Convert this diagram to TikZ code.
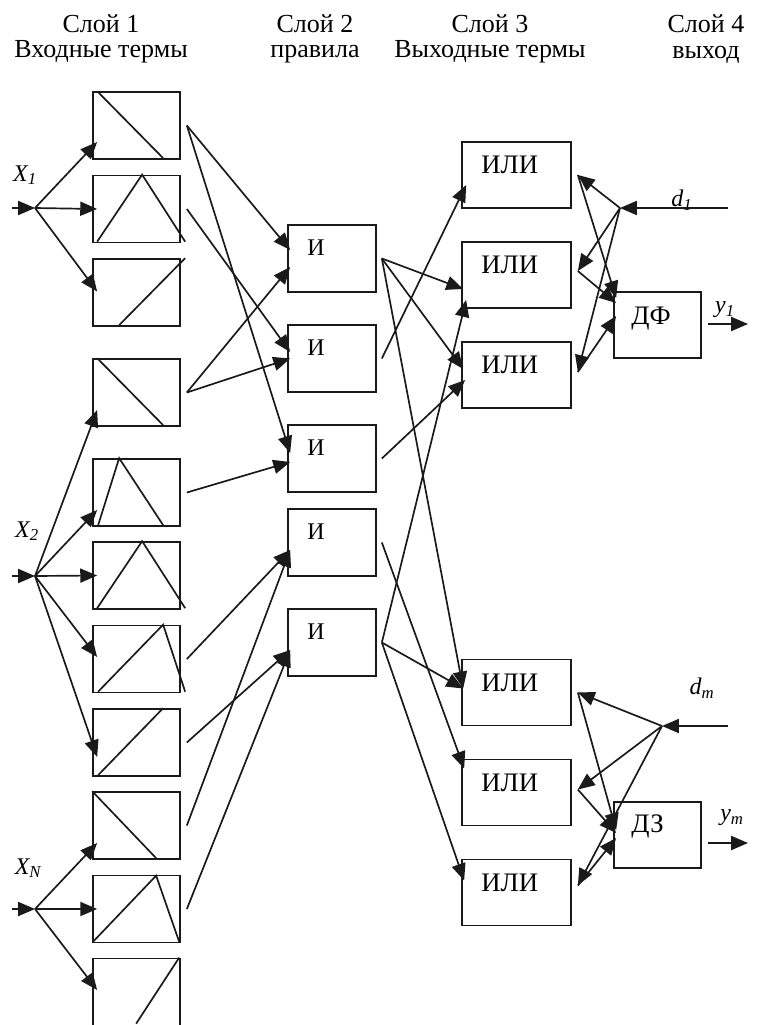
\documentclass[tikz,border=0pt]{standalone}
\usepackage{fontspec}
\setmainfont{Liberation Serif}
\usetikzlibrary{arrows.meta,calc,positioning}
\definecolor{nfink}{HTML}{1A1A1A}
\tikzset{
  termbox/.style={draw=nfink,rectangle,line width=1.2pt,minimum width=2.175cm,
    minimum height=1.675cm,inner sep=0pt},
  boxtext/.style={anchor=north west,inner sep=0pt,xshift=0.5cm,yshift=-0.375cm,
    font=\fontsize{19}{19}\selectfont},
  andbox/.style={termbox,minimum width=2.2cm,
    label={[boxtext,font=\fontsize{17}{17}\selectfont]north west:И}},
  orbox/.style={termbox,minimum width=2.725cm,minimum height=1.65cm,
    label={[boxtext]north west:ИЛИ}},
  outbox/.style={termbox,minimum height=1.65cm},
  mfline/.style={draw=nfink,line width=1.2pt},
  link/.style={draw=nfink,line width=1.2pt,-{Triangle[length=12pt,width=10pt]}},
  layertext/.style={align=center,font=\fontsize{18.5}{18}\selectfont},
  vartext/.style={font=\fontsize{17}{17}\selectfont\itshape,inner sep=0pt},
}
\begin{document}
\begin{tikzpicture}[x=0.025cm,y=-0.025cm]
  \useasboundingbox (0,0) rectangle (763,1025);
  % layer headers
  \node[layertext] (h1) at (101,39) {Слой 1\\Входные термы};
  \node[layertext] (h2) at (315,39) {Слой 2\\правила};
  \node[layertext] (h3) at (490,39) {Слой 3\\Выходные термы};
  \node[layertext] (h4) at (706,39) {Слой 4\\выход};
  % layer 1: input terms
  \foreach \i/\y in {1/125.5,2/209,3/292.5,4/392.5,5/492.5,6/575.5,7/659,8/742.5,9/825.5,10/909,11/992}
    {\node[termbox] (t\i) at (136.5,\y) {};}
  \draw[mfline,shift={(t1.north west)}] (5,0) -- (71,67);
  \draw[mfline,shift={(t2.north west)}] (5,67) -- (50,0) -- (93,67);
  \draw[mfline,shift={(t3.north west)}] (27,67) -- (93,0);
  \draw[mfline,shift={(t4.north west)}] (5,0) -- (71,67);
  \draw[mfline,shift={(t5.north west)}] (6,67) -- (27,0) -- (71,67);
  \draw[mfline,shift={(t6.north west)}] (5,67) -- (50,0) -- (93,67);
  \draw[mfline,shift={(t7.north west)}] (6,67) -- (71,0) -- (93,67);
  \draw[mfline,shift={(t8.north west)}] (6,67) -- (71,0);
  \draw[mfline,shift={(t9.north west)}] (0,0) -- (64,67);
  \draw[mfline,shift={(t10.north west)}] (1,67) -- (64,1) -- (87,67);
  \draw[mfline,shift={(t11.north west)}] (44,66) -- (87,0);
  % inputs
  \coordinate (x1in) at (12,208);  \coordinate (x1fan) at (35,208);
  \coordinate (x2in) at (12,576);  \coordinate (x2fan) at (35,576);
  \coordinate (xnin) at (12,909);  \coordinate (xnfan) at (35,909);
  \node[vartext] (x1) at (25,175) {X\textsubscript{1}};
  \node[vartext] (x2) at (27,531) {X\textsubscript{2}};
  \node[vartext] (xn) at (28,868) {X\textsubscript{N}};
  \draw[link] (x1in) -- (x1fan);
  \draw[link] (x2in) -- (x2fan);
  \draw[link] (xnin) -- (xnfan);
  \foreach \b/\dy in {1/16.5,2/0,3/-1}
    {\draw[link] (x1fan) -- ([shift={(5,\dy)}]t\b.west);}
  \foreach \b/\dy in {4/17.5,5/17.5,6/0,7/-2,8/14.5}
    {\draw[link] (x2fan) -- ([shift={(5,\dy)}]t\b.west);}
  \foreach \b/\dy in {9/17.5,10/0,11/-2}
    {\draw[link] (xnfan) -- ([shift={(5,\dy)}]t\b.west);}
  % layer 2: rules
  \foreach \i/\y in {1/258.5,2/358.5,3/458.5,4/542.5,5/642.5}
    {\node[andbox] (r\i) at (332,\y) {};}
  \foreach \a/\b/\dy in {1/1/-8.5,1/3/-5.5,2/2/-6.5,4/1/8.5,4/2/0,5/3/3.5,7/4/7.5,9/4/7.5,8/5/7.5,10/5/7.5}
    {\draw[link] ([shift={(6,0)}]t\a.east) -- ([shift={(3,\dy)}]r\b.west);}
  % layer 3: output terms
  \foreach \i/\y in {1/175,2/275,3/375,4/692.5,5/792.5,6/892.5}
    {\node[orbox] (o\i) at (516.5,\y) {};}
  \foreach \a/\b/\dx/\dy in {1/2/2/14,1/3/2/-6,1/4/2/-4,2/1/5/10,3/3/4/5,4/5/3/-24,5/2/5/25,5/4/2/-4,5/6/3/-12}
    {\draw[link] ([shift={(5,0)}]r\a.east) -- ([shift={(\dx,\dy)}]o\b.west);}
  % layer 4: output
  \node[outbox,label={[boxtext,xshift=-0.05cm,yshift=-0.025cm]north west:ДФ}] (df) at (657.5,325) {};
  \node[outbox,label={[boxtext,xshift=-0.05cm,yshift=0.05cm]north west:ДЗ}] (dz) at (657.5,835) {};
  \coordinate (d1in) at (728,208);  \coordinate (f1) at (620,208);
  \coordinate (dmin) at (728,726);  \coordinate (f2) at (662,726);
  \coordinate (y1out) at (748,324); \coordinate (ymout) at (748,843);
  \node[vartext] (d1) at (682,200) {d\textsubscript{1}};
  \node[vartext] (dm) at (702,688) {d\textsubscript{m}};
  \node[vartext] (y1) at (725,310) {y\textsubscript{1}};
  \node[vartext] (ym) at (732,818) {y\textsubscript{m}};
  \draw[link] (d1in) -- (f1);
  \draw[link] (dmin) -- (f2);
  \foreach \b/\dy/\ty in {1/0/-27,2/-4/-22,3/-3/-9}
    {\draw[link] (f1) -- ([shift={(6,\dy)}]o\b.east);
     \draw[link] ([shift={(6,\dy)}]o\b.east) -- ([shift={(3,\ty)}]df.west);}
  \foreach \b/\dy/\ty in {4/0/-5,5/-3/-2,6/-7/3}
    {\draw[link] (f2) -- ([shift={(6,\dy)}]o\b.east);
     \draw[link] ([shift={(6,\dy)}]o\b.east) -- ([shift={(3,\ty)}]dz.west);}
  \draw[link] ([shift={(6,-1)}]df.east) -- (y1out);
  \draw[link] ([shift={(6,8)}]dz.east) -- (ymout);
\end{tikzpicture}
\end{document}
